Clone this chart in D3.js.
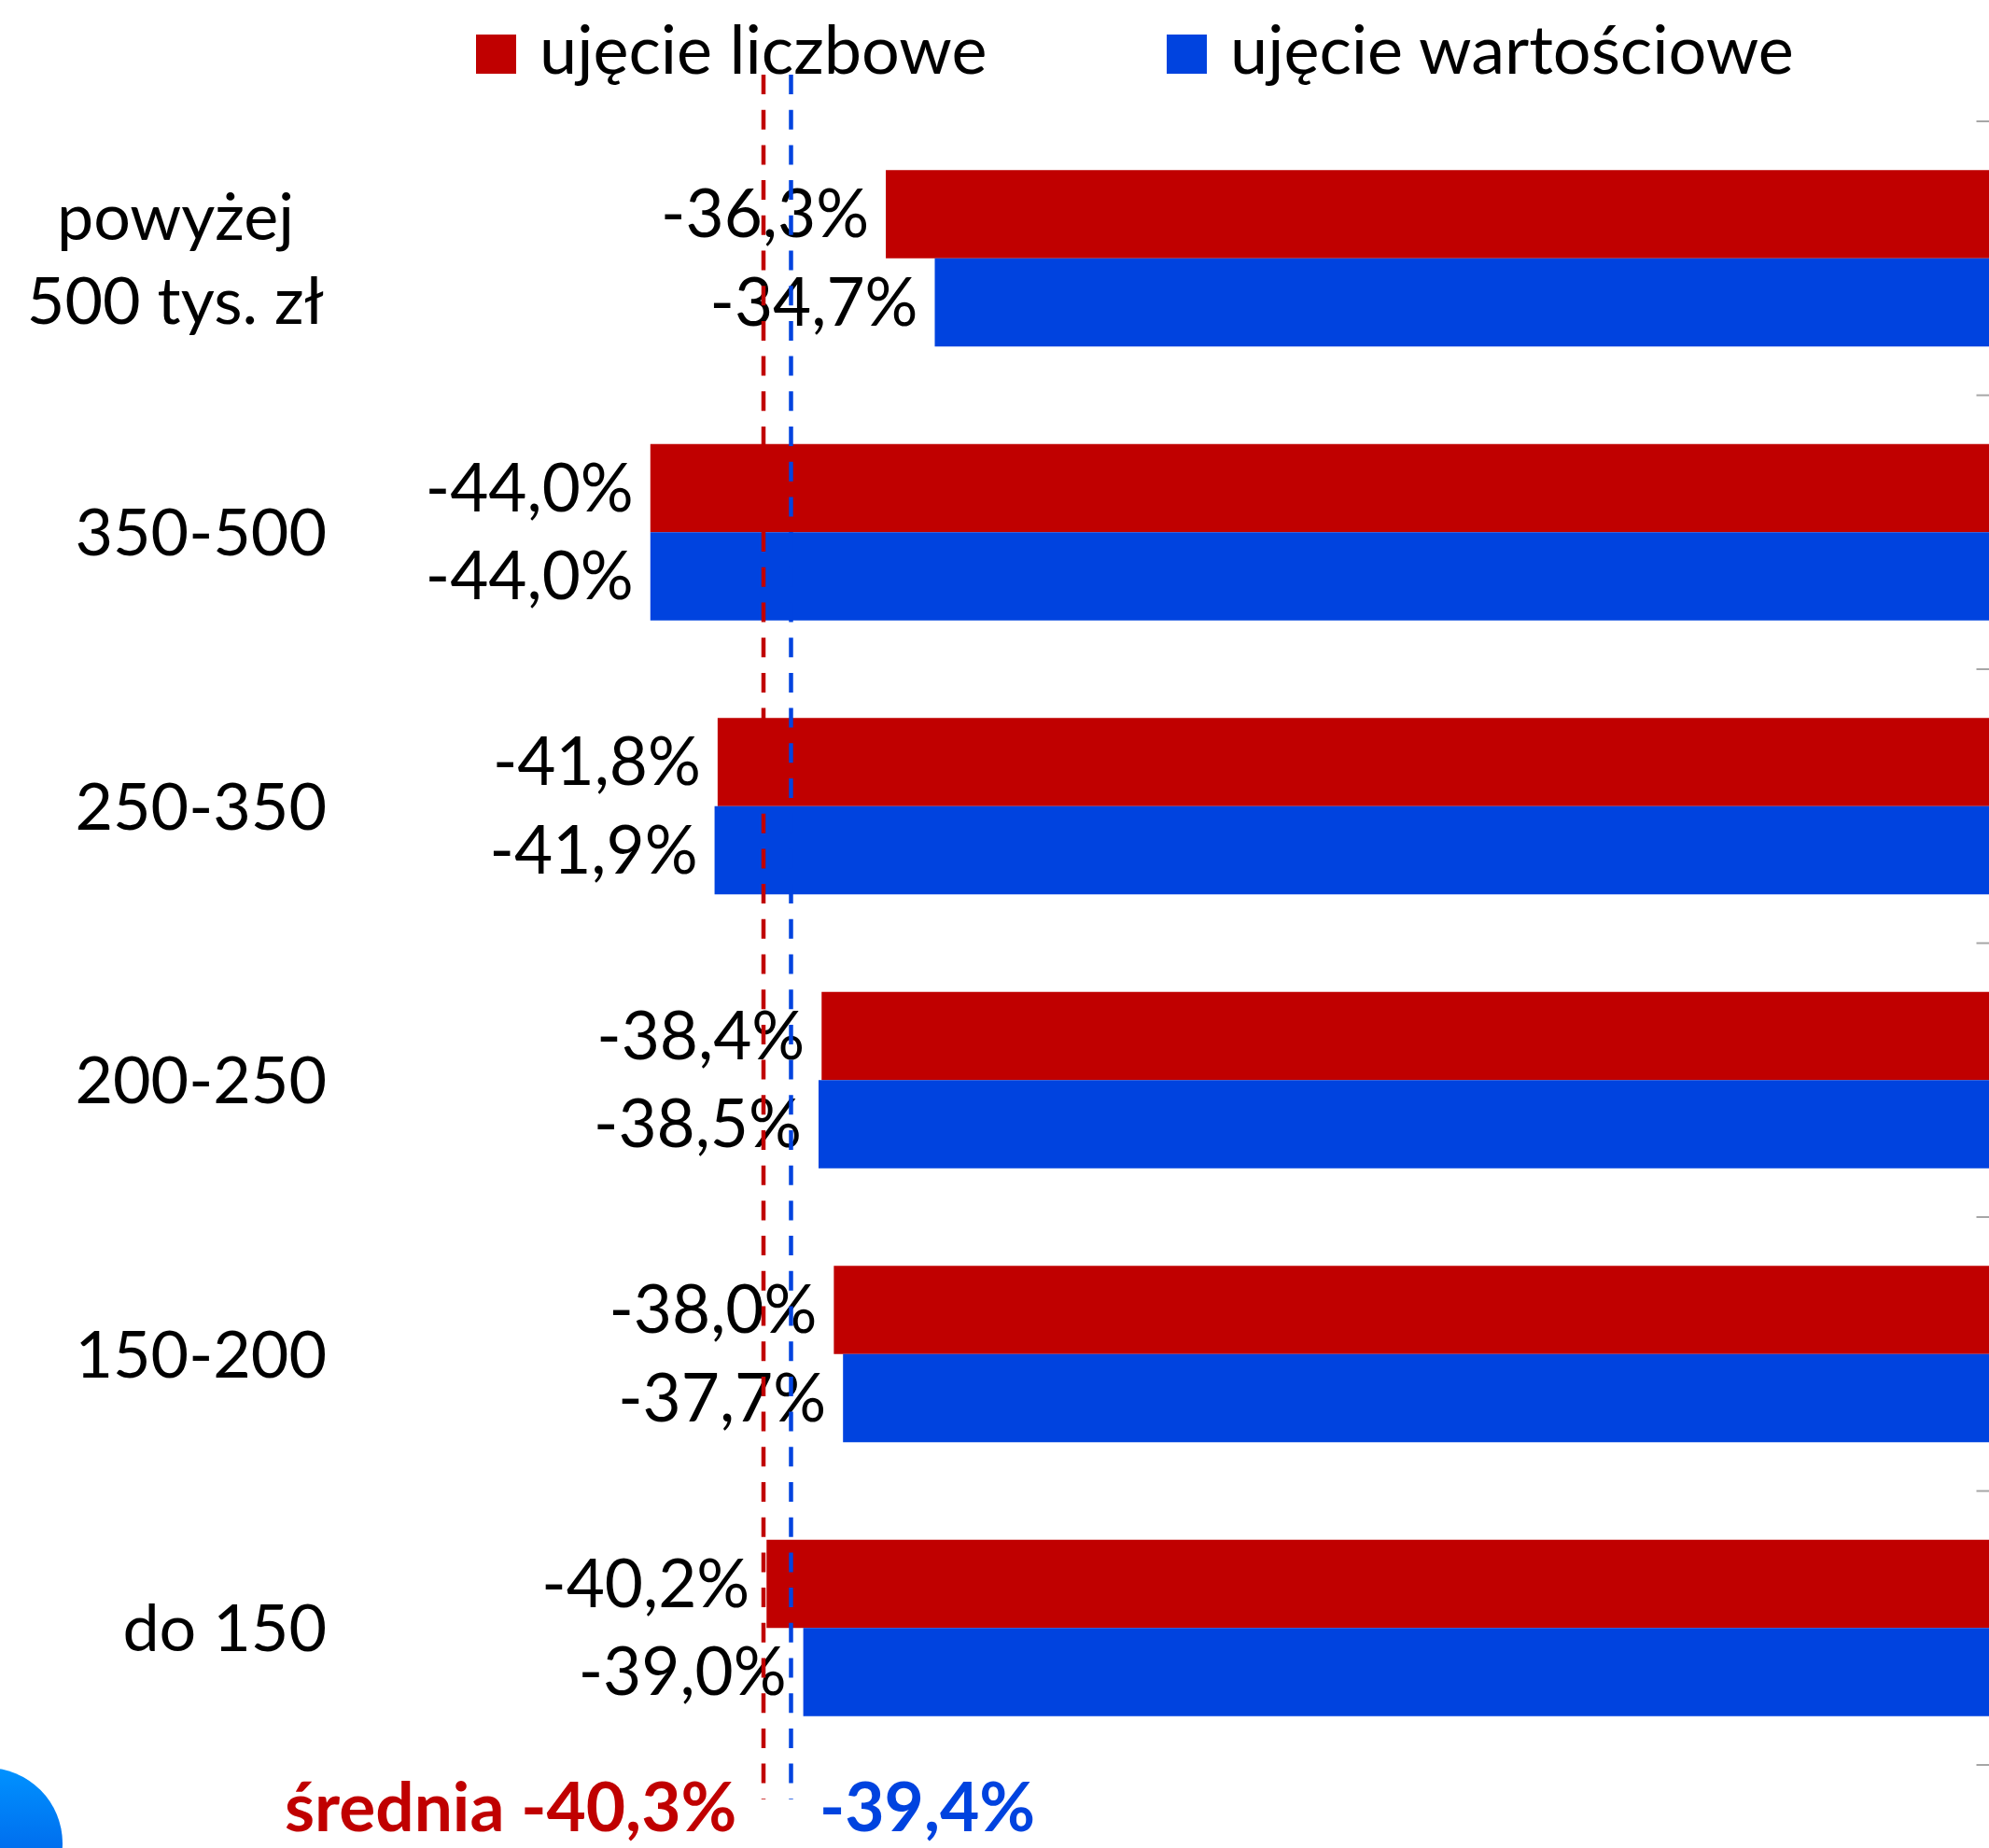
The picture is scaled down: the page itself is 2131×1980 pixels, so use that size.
<!DOCTYPE html>
<html>
<head>
<meta charset="utf-8">
<script src="https://cdn.jsdelivr.net/npm/d3@7"></script>
<style>
  body { margin: 0; background: #fff; }
  text { font-family: Lato, "Open Sans", sans-serif; }
</style>
</head>
<body>
<div id="chart"></div>
<script>
// categories, top to bottom
var categories = ["powyżej 500 tys. zł", "350-500", "250-350", "200-250", "150-200", "do 150"];
var seriesNames = ["ujęcie liczbowe", "ujęcie wartościowe"];
var liczbowe = [-36.3, -44.0, -41.8, -38.4, -38.0, -40.2];
var wartosciowe = [-34.7, -44.0, -41.9, -38.5, -37.7, -39.0];
var averages = [-40.3, -39.4];

var width = 2131, height = 1980;
var red = "#C00000", blue = "#0043DF";
var colors = [red, blue];

var svg = d3.select("#chart")
  .append("svg")
  .attr("width", width)
  .attr("height", height);

svg.append("rect").attr("width", width).attr("height", height).attr("fill", "#fff");

var x = d3.scaleLinear()
  .domain([-45, 0])
  .range([664, 2138.5]);

var y = d3.scaleBand()
  .domain(categories)
  .range([130, 1891])
  .paddingInner(0.356)
  .paddingOuter(0.178);

var ySub = d3.scaleBand()
  .domain(seriesNames)
  .range([0, y.bandwidth()]);

var rows = categories.map(function(c, i) {
  return { cat: c, values: [
    { name: seriesNames[0], value: liczbowe[i] },
    { name: seriesNames[1], value: wartosciowe[i] }
  ]};
});

// category axis ticks (band boundaries, on the zero line)
var boundaries = d3.range(categories.length + 1).map(function(i) { return 130 + i * y.step(); });
svg.selectAll("tickLines")
  .data(boundaries)
  .enter()
  .append("line")
    .attr("x1", x(0) - 21)
    .attr("x2", x(0))
    .attr("y1", function(d) { return d; })
    .attr("y2", function(d) { return d; })
    .attr("stroke", "#A6A6A6")
    .attr("stroke-width", 2);

// bars
var groups = svg.selectAll("groups")
  .data(rows)
  .enter()
  .append("g")
    .attr("transform", function(d) { return "translate(0," + y(d.cat) + ")"; });

groups.selectAll("bars")
  .data(function(d) { return d.values; })
  .enter()
  .append("rect")
    .attr("x", function(d) { return x(d.value); })
    .attr("y", function(d) { return ySub(d.name); })
    .attr("width", function(d) { return x(0) - x(d.value); })
    .attr("height", ySub.bandwidth())
    .attr("fill", function(d, i) { return colors[i]; });

// data labels
groups.selectAll("labels")
  .data(function(d) { return d.values; })
  .enter()
  .append("text")
    .attr("x", function(d) { return x(d.value) - 18; })
    .attr("y", function(d) { return ySub(d.name) + ySub.bandwidth() / 2 + 25; })
    .attr("text-anchor", "end")
    .style("font-size", "71px")
    .style("fill", "#000")
    .text(function(d) { return d.value.toFixed(1).replace(".", ",") + "%"; });

// category labels
svg.selectAll("catLabels")
  .data(categories)
  .enter()
  .append("text")
    .attr("text-anchor", function(d, i) { return i === 0 ? "middle" : "end"; })
    .attr("x", function(d, i) { return i === 0 ? 188 : 350; })
    .attr("y", function(d) { return y(d) + y.bandwidth() / 2 + 25; })
    .style("font-size", "70px")
    .style("fill", "#000")
    .each(function(d, i) {
      var t = d3.select(this);
      if (i === 0) {
        t.append("tspan").attr("x", 188).attr("dy", -45).text("powyżej");
        t.append("tspan").attr("x", 188).attr("dy", 90).text("500 tys. zł");
      } else {
        t.text(d);
      }
    });

// average dashed lines
svg.selectAll("avgLines")
  .data(averages)
  .enter()
  .append("line")
    .attr("x1", function(d) { return x(d); })
    .attr("x2", function(d) { return x(d); })
    .attr("y1", 80)
    .attr("y2", 1928)
    .attr("stroke", function(d, i) { return colors[i]; })
    .attr("stroke-width", 4.5)
    .attr("stroke-dasharray", "21,16.7");

// average labels
svg.append("text")
  .attr("x", 305)
  .attr("y", 1962)
  .style("font-size", "73px")
  .style("font-weight", "bold")
  .style("fill", red)
  .text("średnia " + averages[0].toFixed(1).replace(".", ",") + "%");

svg.append("text")
  .attr("x", 878)
  .attr("y", 1962)
  .style("font-size", "73px")
  .style("font-weight", "bold")
  .style("fill", blue)
  .text(averages[1].toFixed(1).replace(".", ",") + "%");

// legend
var legendX = [510, 1250];
var legend = svg.selectAll("legend")
  .data(seriesNames)
  .enter()
  .append("g")
    .attr("transform", function(d, i) { return "translate(" + legendX[i] + ",0)"; });

legend.append("rect")
  .attr("x", 0)
  .attr("y", 37)
  .attr("width", 43)
  .attr("height", 42)
  .attr("fill", function(d, i) { return colors[i]; });

legend.append("text")
  .attr("x", 68)
  .attr("y", 79)
  .style("font-size", "72px")
  .style("fill", "#000")
  .text(function(d) { return d; });

// decorative circle, bottom left
var grad = svg.append("defs").append("linearGradient")
  .attr("id", "circGrad")
  .attr("x1", 0).attr("y1", 0).attr("x2", 0).attr("y2", 1);
grad.append("stop").attr("offset", "0%").attr("stop-color", "#0092FF");
grad.append("stop").attr("offset", "100%").attr("stop-color", "#0050E0");

svg.append("circle")
  .attr("cx", -14)
  .attr("cy", 1975)
  .attr("r", 81)
  .attr("fill", "url(#circGrad)");
</script>
</body>
</html>
